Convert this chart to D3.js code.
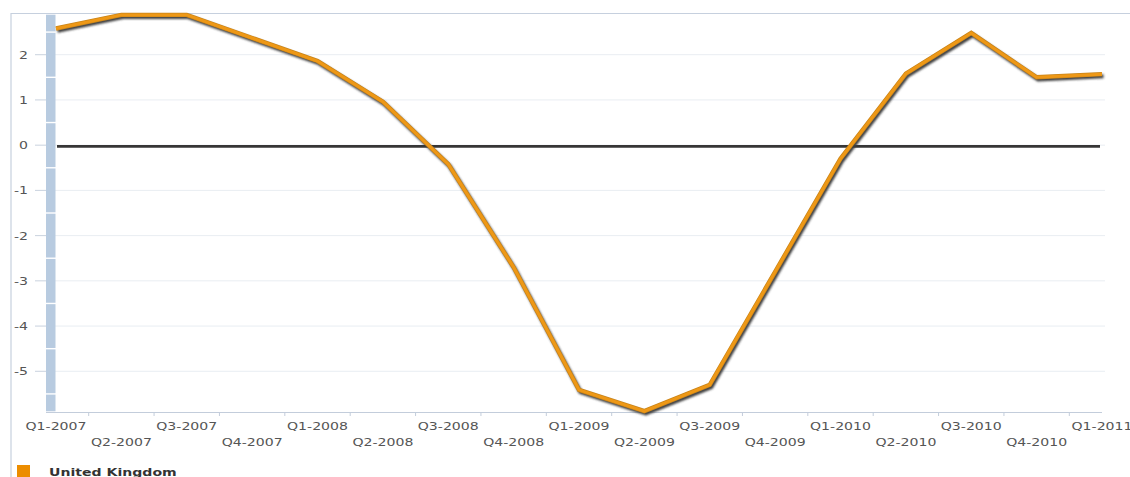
<!DOCTYPE html>
<html>
<head>
<meta charset="utf-8">
<script src="https://cdn.jsdelivr.net/npm/d3@7"></script>
<style>
  html, body { margin: 0; padding: 0; background: #fff; }
  svg { display: block; }
  text { font-family: "DejaVu Sans", Verdana, sans-serif; }
</style>
</head>
<body>
<svg id="chart" width="1130" height="477"></svg>
<script>
// Quarterly GDP growth, United Kingdom (% change)
const quarters = ["Q1-2007","Q2-2007","Q3-2007","Q4-2007","Q1-2008","Q2-2008","Q3-2008","Q4-2008",
                  "Q1-2009","Q2-2009","Q3-2009","Q4-2009","Q1-2010","Q2-2010","Q3-2010","Q4-2010","Q1-2011"];
const ukGrowth = [2.58, 2.88, 2.88, 2.37, 1.86, 0.96, -0.42, -2.7,
                  -5.41, -5.88, -5.3, -2.8, -0.3, 1.58, 2.48, 1.5, 1.57];
const yTicks = [-5, -4, -3, -2, -1, 0, 1, 2];
const yDomain = [-5.9, 2.9];
const seriesName = "United Kingdom";

const svg = d3.select("#chart");
const STRETCH = 1.28;   // wide lettering used by the chart's text

const x = d3.scalePoint().domain(quarters).range([56, 1102]);
const y = d3.scaleLinear().domain(yDomain).range([412, 14]);
const step = x.step();

// Outer frame
svg.append("line").attr("x1", 11).attr("x2", 11).attr("y1", 13).attr("y2", 477)
  .attr("stroke", "#c6d0de").attr("stroke-width", 1.2);
svg.append("line").attr("x1", 11).attr("x2", 1130).attr("y1", 13.5).attr("y2", 13.5)
  .attr("stroke", "#c6d0de").attr("stroke-width", 1.2);

// Horizontal gridlines
svg.append("g").selectAll("line").data(yTicks).join("line")
  .attr("x1", 55).attr("x2", 1105)
  .attr("y1", d => y(d)).attr("y2", d => y(d))
  .attr("stroke", "#e9edf2").attr("stroke-width", 1);

// Axis wall band on the left, broken at half units
const bandEdges = [yDomain[0], -5.5, -4.5, -3.5, -2.5, -1.5, -0.5, 0.5, 1.5, 2.5, yDomain[1]];
const bandSegs = d3.pairs(bandEdges);
svg.append("g").selectAll("rect").data(bandSegs).join("rect")
  .attr("x", 46).attr("width", 9.5)
  .attr("y", d => y(d[1]) + 0.7)
  .attr("height", d => Math.max(0, y(d[0]) - y(d[1]) - 1.4))
  .attr("fill", "#b8cbe0");

// Y axis ticks and labels
const yAxisG = svg.append("g");
yAxisG.selectAll("line").data(yTicks).join("line")
  .attr("x1", 35).attr("x2", 46)
  .attr("y1", d => y(d)).attr("y2", d => y(d))
  .attr("stroke", "#c9d2de").attr("stroke-width", 1);
yAxisG.selectAll("text").data(yTicks).join("text")
  .attr("transform", d => `translate(28,${y(d) + 4}) scale(${STRETCH},1)`)
  .attr("text-anchor", "end")
  .attr("font-size", 11)
  .attr("fill", "#555")
  .text(d => d);

// X axis baseline, ticks between quarters, staggered labels
svg.append("line").attr("x1", 46).attr("x2", 1102).attr("y1", 412.5).attr("y2", 412.5)
  .attr("stroke", "#c3cddb").attr("stroke-width", 1.2);
svg.append("g").selectAll("line").data(quarters.slice(0, -1)).join("line")
  .attr("x1", d => x(d) + step / 2).attr("x2", d => x(d) + step / 2)
  .attr("y1", 412).attr("y2", 416)
  .attr("stroke", "#c3cddb");
svg.append("g").selectAll("text").data(quarters).join("text")
  .attr("transform", (d, i) => `translate(${x(d)},${i % 2 === 0 ? 430 : 446}) scale(${STRETCH},1)`)
  .attr("text-anchor", "middle")
  .attr("font-size", 11)
  .attr("fill", "#555")
  .text(d => d);

// Soft shadow filter for the lines
const defs = svg.append("defs");
defs.append("filter").attr("id", "soft").attr("x", "-5%").attr("y", "-5%").attr("width", "110%").attr("height", "110%")
  .append("feGaussianBlur").attr("stdDeviation", 0.9);

// Zero reference line
const zeroG = svg.append("g");
zeroG.append("line")
  .attr("x1", x(quarters[0]) + 1).attr("x2", x(quarters[quarters.length - 1]) - 2)
  .attr("y1", y(0) + 2.6).attr("y2", y(0) + 2.6)
  .attr("stroke", "#999").attr("stroke-width", 2).attr("filter", "url(#soft)");
zeroG.append("line")
  .attr("x1", x(quarters[0]) + 1).attr("x2", x(quarters[quarters.length - 1]) - 2)
  .attr("y1", y(0) + 1.2).attr("y2", y(0) + 1.2)
  .attr("stroke", "#363636").attr("stroke-width", 2.6);

// Growth series with drop shadow
const line = d3.line().x((d, i) => x(quarters[i])).y(d => y(d));
svg.append("path").datum(ukGrowth)
  .attr("d", line)
  .attr("transform", "translate(1.5,2.2)")
  .attr("fill", "none").attr("stroke", "#3c3c3c").attr("stroke-width", 4)
  .attr("stroke-linejoin", "miter").attr("filter", "url(#soft)");
svg.append("path").datum(ukGrowth)
  .attr("d", line)
  .attr("fill", "none").attr("stroke", "#c98419").attr("stroke-width", 4.4)
  .attr("stroke-linejoin", "miter");
svg.append("path").datum(ukGrowth)
  .attr("d", line)
  .attr("fill", "none").attr("stroke", "#ee9816").attr("stroke-width", 3)
  .attr("stroke-linejoin", "miter");

// Legend
svg.append("rect").attr("x", 17).attr("y", 465).attr("width", 13).attr("height", 13).attr("fill", "#ec8d00");
svg.append("text")
  .attr("transform", `translate(49,475.5) scale(${STRETCH},1)`)
  .attr("font-size", 11).attr("font-weight", "bold").attr("fill", "#333")
  .text(seriesName);
</script>
</body>
</html>
